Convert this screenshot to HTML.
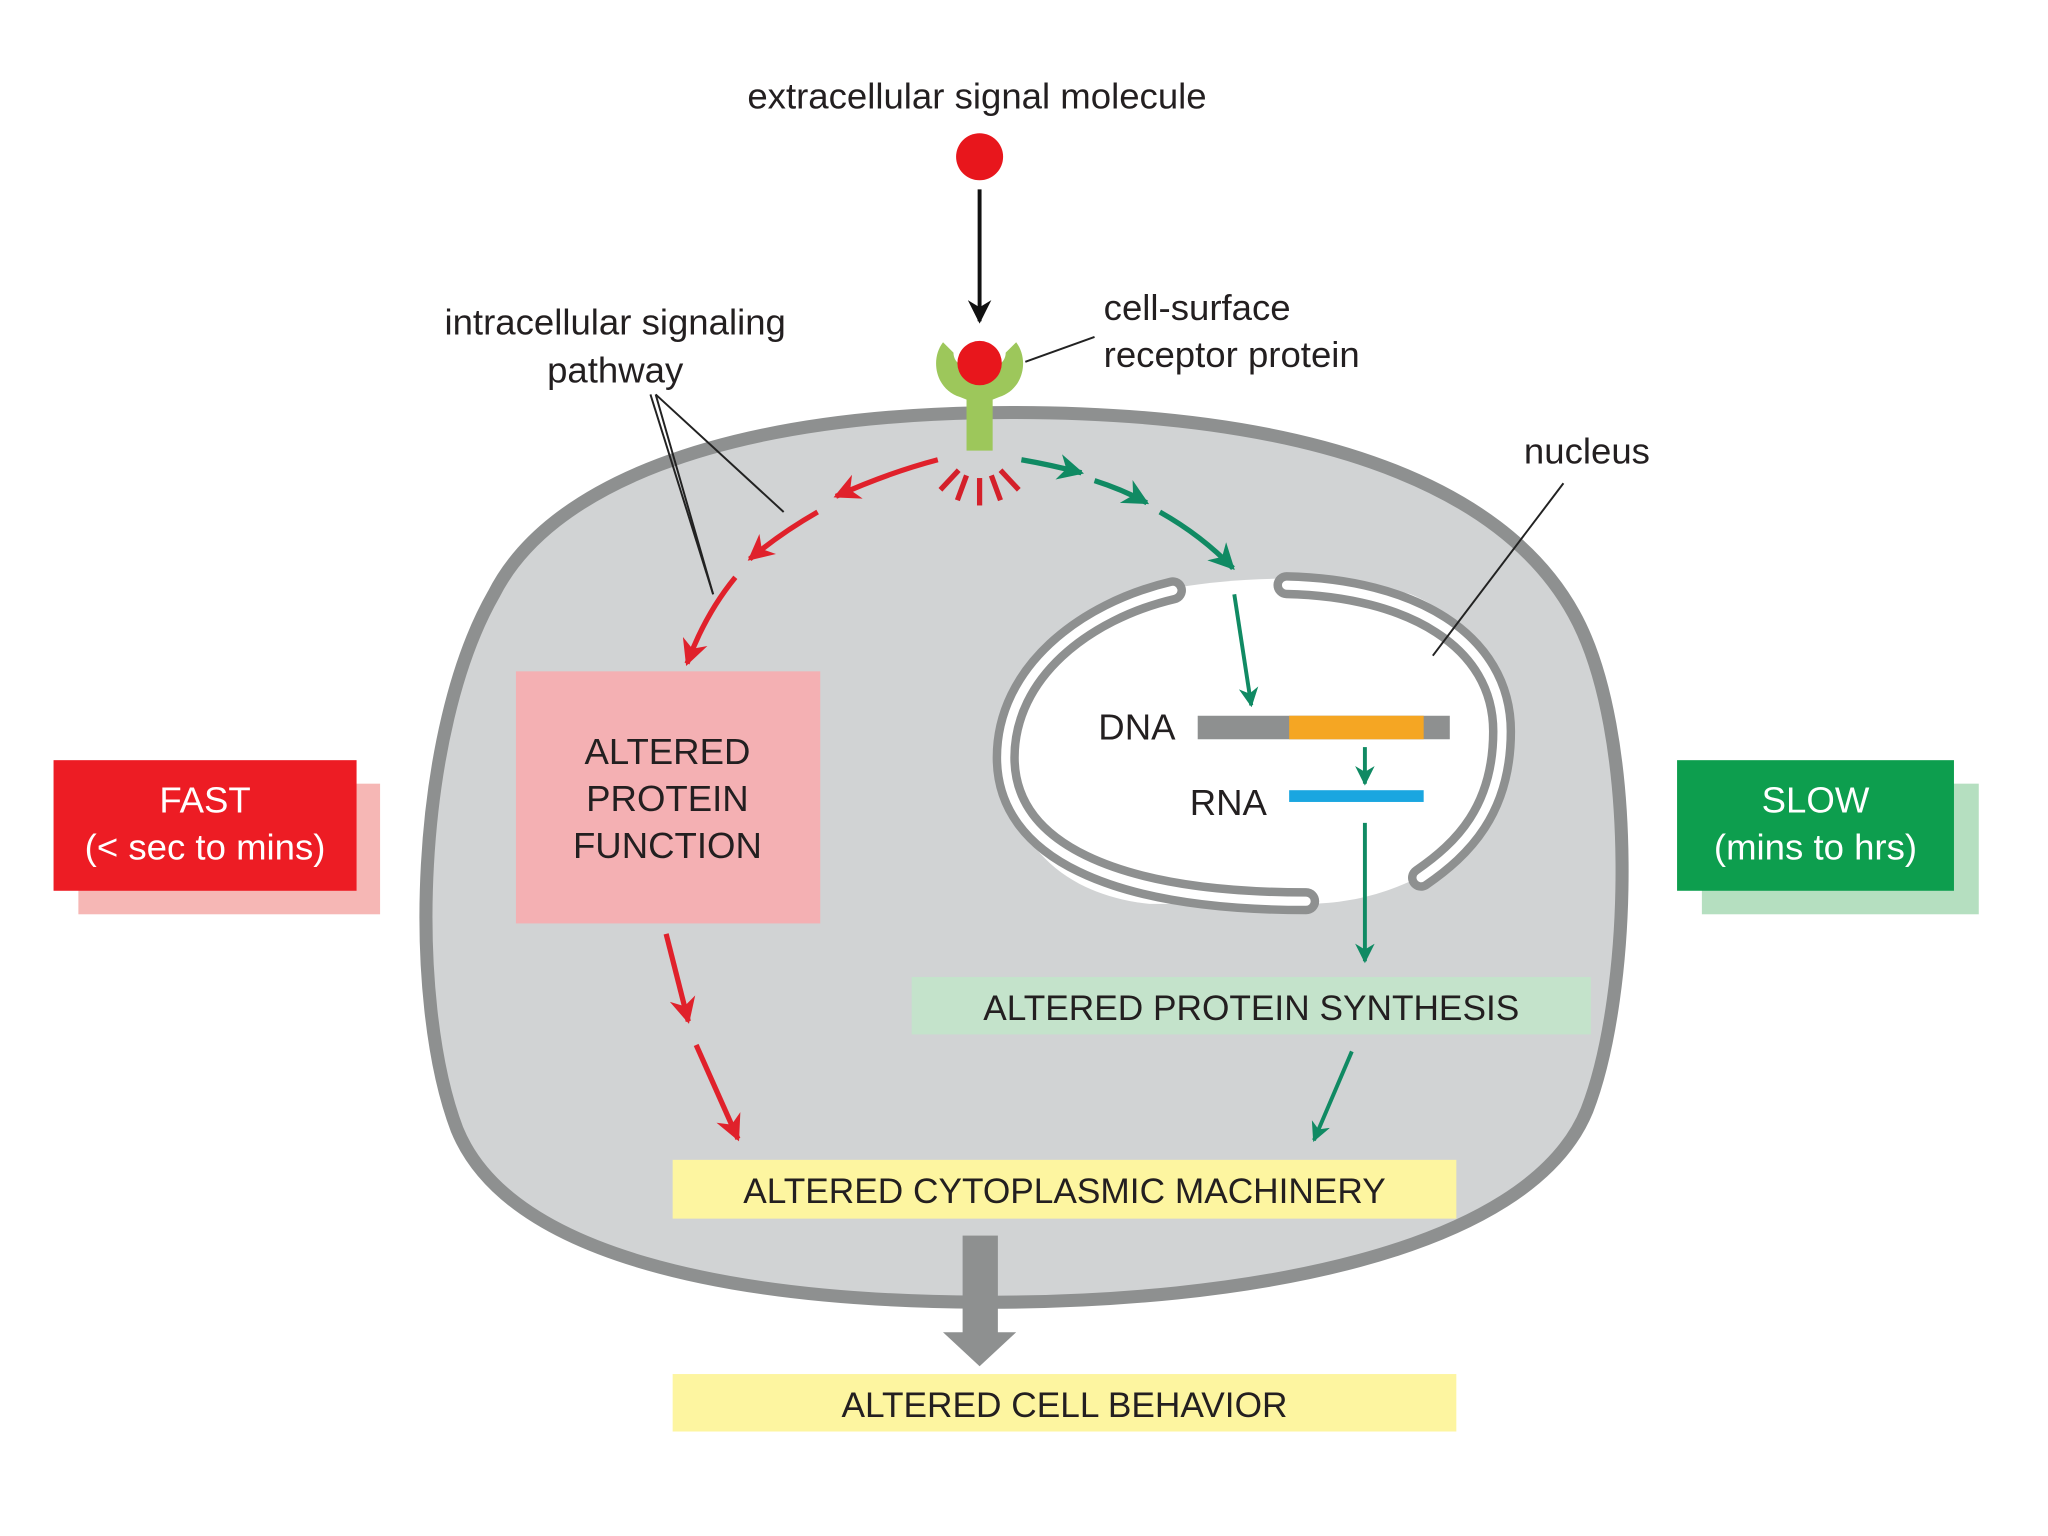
<!DOCTYPE html>
<html><head><meta charset="utf-8"><style>
html,body{margin:0;padding:0;background:#fff;}
svg{display:block;}
text{font-family:"Liberation Sans",sans-serif;fill:#231f20;}
</style></head><body>
<svg width="2048" height="1536" viewBox="0 0 1568 1176" preserveAspectRatio="none" xmlns="http://www.w3.org/2000/svg">
<defs>
<marker id="ar" viewBox="0 0 10 10" refX="9" refY="5" markerWidth="5" markerHeight="5" orient="auto" markerUnits="strokeWidth"><path d="M0,0 L10,5 L0,10 L3,5 Z" fill="#e0212b"/></marker>
<marker id="ag" viewBox="0 0 10 10" refX="9" refY="5" markerWidth="5" markerHeight="5" orient="auto" markerUnits="strokeWidth"><path d="M0,0 L10,5 L0,10 L3,5 Z" fill="#108a63"/></marker>
<marker id="ak" viewBox="0 0 10 10" refX="9" refY="5" markerWidth="6" markerHeight="6" orient="auto" markerUnits="strokeWidth"><path d="M0,0 L10,5 L0,10 L3,5 Z" fill="#111"/></marker>
</defs>
<rect width="1568" height="1176" fill="#fff"/>

<!-- side labels -->
<rect x="60" y="600" width="231" height="100" fill="#f6b7b5"/>
<rect x="41" y="582" width="232" height="100" fill="#ed1c24"/>
<text x="157" y="622" font-size="28" text-anchor="middle" style="fill:#fff">FAST</text>
<text x="157" y="658" font-size="28" text-anchor="middle" style="fill:#fff">(&lt; sec to mins)</text>
<rect x="1303" y="600" width="212" height="100" fill="#b5dfc0"/>
<rect x="1284" y="582" width="212" height="100" fill="#0d9e4e"/>
<text x="1390" y="622" font-size="28" text-anchor="middle" style="fill:#fff">SLOW</text>
<text x="1390" y="658" font-size="28" text-anchor="middle" style="fill:#fff">(mins to hrs)</text>

<!-- cell -->
<path d="M750 316 C1000 312 1150 370 1205 470 C1255 560 1250 760 1215 850 C1170 960 950 998 750 997 C560 996 390 962 350 865 C312 765 318 560 378 455 C420 372 550 320 750 316 Z" fill="#d1d3d4" stroke="#8e9090" stroke-width="10"/>

<!-- nucleus -->
<path d="M900 450 C960 440 1030 440 1080 455 C1140 480 1155 530 1150 580 C1145 625 1115 655 1085 672 C1060 685 1030 692 1000 692 L880 692 C810 685 770 640 770 580 C770 520 820 465 900 450 Z" fill="#fff"/>
<g fill="none" stroke-linecap="round">
<path d="M898 452 C830 468 770 515 770 580 C770 650 850 690 1000 690" stroke="#8e9090" stroke-width="20"/>
<path d="M898 452 C830 468 770 515 770 580 C770 650 850 690 1000 690" stroke="#fff" stroke-width="7"/>
<path d="M985 448 C1080 450 1150 490 1150 560 C1150 620 1120 650 1088 672" stroke="#8e9090" stroke-width="20"/>
<path d="M985 448 C1080 450 1150 490 1150 560 C1150 620 1120 650 1088 672" stroke="#fff" stroke-width="7"/>
</g>

<!-- DNA / RNA -->
<text x="900" y="566" font-size="28" text-anchor="end">DNA</text>
<rect x="917" y="548" width="193" height="18" fill="#8e9090"/>
<rect x="987" y="548" width="103" height="18" fill="#f5a623"/>
<text x="970" y="624" font-size="28" text-anchor="end">RNA</text>
<rect x="987" y="605" width="103" height="9" fill="#1aa6e0"/>

<!-- top -->
<text x="748" y="83" font-size="28" text-anchor="middle">extracellular signal molecule</text>
<circle cx="750" cy="120" r="18" fill="#e8161c"/>
<line x1="750" y1="145" x2="750" y2="246" stroke="#111" stroke-width="3" marker-end="url(#ak)"/>

<!-- receptor -->
<path d="M722 262 C712 275 716 298 735 304 L740 306 L740 345 L760 345 L760 306 L765 304 C784 298 788 275 778 262 L770 270 C770 288 730 288 730 270 Z" fill="#9dc75b"/>
<circle cx="750" cy="278" r="17" fill="#e8161c"/>
<line x1="785" y1="277" x2="838" y2="258" stroke="#222" stroke-width="1.5"/>
<text x="845" y="245" font-size="28">cell-surface</text>
<text x="845" y="281" font-size="28">receptor protein</text>

<text x="471" y="256" font-size="28" text-anchor="middle">intracellular signaling</text>
<text x="471" y="293" font-size="28" text-anchor="middle">pathway</text>
<g stroke="#222" stroke-width="1.5"><line x1="502" y1="302" x2="600" y2="392"/><line x1="502" y1="302" x2="546" y2="455"/><line x1="498" y1="302" x2="546" y2="455"/></g>

<text x="1215" y="355" font-size="28" text-anchor="middle">nucleus</text>
<line x1="1197" y1="370" x2="1097" y2="502" stroke="#222" stroke-width="1.5"/>

<!-- rays -->
<g stroke="#d4202a" stroke-width="4">
<line x1="734" y1="360" x2="720" y2="375"/><line x1="740" y1="364" x2="733" y2="383"/><line x1="750" y1="366" x2="750" y2="387"/><line x1="759" y1="364" x2="766" y2="383"/><line x1="766" y1="360" x2="780" y2="375"/>
</g>

<!-- red dashed arc -->
<g fill="none" stroke="#e0212b" stroke-width="4">
<path d="M718 352 Q680 362 640 380" marker-end="url(#ar)"/>
<path d="M626 392 Q598 408 574 428" marker-end="url(#ar)"/>
<path d="M563 442 Q540 470 526 508" marker-end="url(#ar)"/>
<path d="M510 715 L527 782" marker-end="url(#ar)"/>
<path d="M533 800 L565 872" marker-end="url(#ar)"/>
</g>
<!-- green arrows -->
<g fill="none" stroke="#108a63" stroke-width="4">
<path d="M782 352 Q805 356 828 362" marker-end="url(#ag)"/>
<path d="M838 368 Q860 375 878 385" marker-end="url(#ag)"/>
<path d="M888 392 Q920 410 944 435" marker-end="url(#ag)"/>
<path d="M945 455 L958 540" stroke-width="3" marker-end="url(#ag)"/>
<path d="M1045 572 L1045 600" stroke-width="3" marker-end="url(#ag)"/>
<path d="M1045 630 L1045 736" stroke-width="3" marker-end="url(#ag)"/>
<path d="M1035 805 L1006 873" stroke-width="3" marker-end="url(#ag)"/>
</g>

<!-- boxes -->
<rect x="395" y="514" width="233" height="193" fill="#f4b0b3"/>
<text x="511" y="585" font-size="28" text-anchor="middle">ALTERED</text>
<text x="511" y="621" font-size="28" text-anchor="middle">PROTEIN</text>
<text x="511" y="657" font-size="28" text-anchor="middle">FUNCTION</text>

<rect x="698" y="748" width="520" height="44" fill="#c4e3cb"/>
<text x="958" y="781" font-size="27" text-anchor="middle">ALTERED PROTEIN SYNTHESIS</text>

<rect x="515" y="888" width="600" height="45" fill="#fdf5a0"/>
<text x="815" y="921" font-size="27" text-anchor="middle">ALTERED CYTOPLASMIC MACHINERY</text>

<rect x="737" y="946" width="27" height="76" fill="#8e9090"/>
<path d="M722 1020 L778 1020 L750 1046 Z" fill="#8e9090"/>

<rect x="515" y="1052" width="600" height="44" fill="#fdf5a0"/>
<text x="815" y="1085" font-size="27" text-anchor="middle">ALTERED CELL BEHAVIOR</text>
</svg>
</body></html>
